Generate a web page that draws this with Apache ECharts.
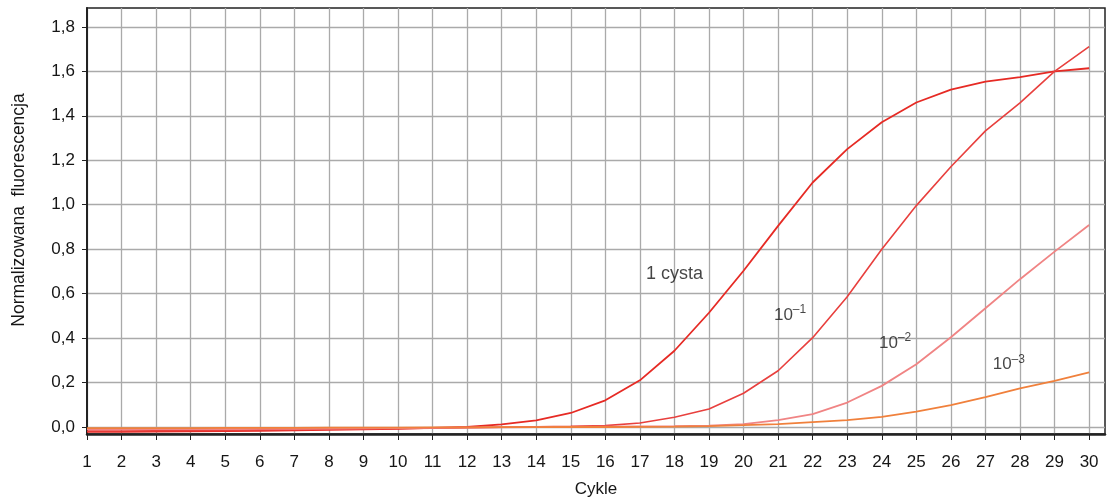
<!DOCTYPE html>
<html>
<head>
<meta charset="utf-8">
<script src="https://cdn.jsdelivr.net/npm/echarts@6/dist/echarts.min.js"></script>
<style>
  html, body { margin: 0; padding: 0; background: #fff; }
  #chart { width: 1107px; height: 499px; }
</style>
</head>
<body>
<div id="chart"></div>
<script>
// Cycle numbers (x) and normalised fluorescence per dilution
const cycles = [1,2,3,4,5,6,7,8,9,10,11,12,13,14,15,16,17,18,19,20,21,22,23,24,25,26,27,28,29,30];
const cysta1 = [-0.022,-0.022,-0.021,-0.02,-0.019,-0.017,-0.015,-0.013,-0.011,-0.008,-0.004,0.0,0.012,0.03,0.063,0.12,0.21,0.343,0.514,0.703,0.905,1.10,1.25,1.371,1.46,1.518,1.554,1.574,1.600,1.614];
const dil1 = [-0.018,-0.018,-0.017,-0.016,-0.015,-0.013,-0.012,-0.01,-0.009,-0.007,-0.005,-0.003,-0.001,0.001,0.003,0.006,0.018,0.044,0.081,0.152,0.253,0.402,0.586,0.80,0.996,1.171,1.332,1.458,1.600,1.711];
const dil2 = [-0.01,-0.01,-0.01,-0.009,-0.009,-0.008,-0.008,-0.007,-0.006,-0.005,-0.004,-0.003,-0.002,-0.001,0.0,0.002,0.003,0.004,0.006,0.013,0.031,0.058,0.11,0.185,0.282,0.404,0.534,0.665,0.789,0.909];
const dil3 = [-0.005,-0.005,-0.005,-0.005,-0.004,-0.004,-0.004,-0.003,-0.003,-0.003,-0.002,-0.002,-0.001,-0.001,0.0,0.0,0.001,0.002,0.004,0.008,0.013,0.022,0.031,0.046,0.069,0.098,0.134,0.174,0.208,0.246];

// Axis tick values
const xTicks = [1,2,3,4,5,6,7,8,9,10,11,12,13,14,15,16,17,18,19,20,21,22,23,24,25,26,27,28,29,30];
const yTicks = [0,0.2,0.4,0.6,0.8,1.0,1.2,1.4,1.6,1.8];

// Curve annotations: [x, y, text kind]
const curveLabels = [
  [17.18, 0.689, 'main'],
  [20.88, 0.504, '-1'],
  [23.92, 0.378, '-2'],
  [27.21, 0.282, '-3']
];

const zip = (ys) => cycles.map((c, i) => [c, ys[i]]);
const fmtNum = (v) => v.toFixed(1).replace('.', ',');

const chart = echarts.init(document.getElementById('chart'), null, { renderer: 'canvas' });
const font = '"Liberation Sans", Arial, sans-serif';
const ink = '#161616';

const lineSeries = (name, data, color, width) => ({
  name, type: 'line', data: zip(data), showSymbol: false, symbol: 'none',
  lineStyle: { color, width }, smooth: false, z: 3
});

chart.setOption({
  animation: false,
  backgroundColor: '#fff',
  grid: {
    left: 87, right: 2, top: 8, bottom: 65,
    outerBoundsMode: 'none', containLabel: false,
    show: true, borderColor: '#222', borderWidth: 1.5
  },
  xAxis: {
    type: 'value', min: 1, max: 30.46,
    name: 'Cykle', nameLocation: 'middle', nameGap: 47,
    nameTextStyle: { fontFamily: font, fontSize: 17, color: ink },
    axisLine: { show: true, onZero: false, lineStyle: { color: '#222', width: 2.5 } },
    axisTick: { show: true, length: 6, customValues: xTicks, lineStyle: { color: '#222', width: 1 } },
    axisLabel: { customValues: xTicks, margin: 20, fontFamily: font, fontSize: 17, color: ink },
    splitLine: { show: true, lineStyle: { color: '#aaa', width: 1.3 } }
  },
  yAxis: {
    type: 'value', min: -0.0315, max: 1.885,
    name: 'Normalizowana  fluorescencja', nameLocation: 'middle', nameGap: 59,
    nameTextStyle: { fontFamily: font, fontSize: 17.5, color: ink, padding: [0, 0, 0, 22] },
    axisLine: { show: true, onZero: false, lineStyle: { color: '#222', width: 2 } },
    axisTick: { show: true, length: 5, customValues: yTicks, lineStyle: { color: '#222', width: 1 } },
    axisLabel: { customValues: yTicks, margin: 12, fontFamily: font, fontSize: 17, color: ink, formatter: fmtNum },
    splitLine: { show: true, lineStyle: { color: '#aaa', width: 1.3 } }
  },
  series: [
    lineSeries('1 cysta', cysta1, '#e62a24', 1.8),
    lineSeries('10-1', dil1, '#e8403e', 1.6),
    lineSeries('10-2', dil2, '#f08484', 1.8),
    lineSeries('10-3', dil3, '#f0803c', 1.8),
    {
      type: 'scatter', symbolSize: 0, z: 5, silent: true,
      data: curveLabels.map(l => ({ value: [l[0], l[1]], kind: l[2] })),
      label: {
        show: true, position: 'right', distance: 0,
        fontFamily: font, color: ink,
        formatter: (p) => p.data.kind === 'main' ? '{c|1 cysta}' : '{m|10}{s|–' + p.data.kind.slice(1) + '}',
        rich: {
          c: { fontFamily: font, fontSize: 18, color: ink, lineHeight: 22 },
          m: { fontFamily: font, fontSize: 17, color: ink, lineHeight: 22 },
          s: { fontFamily: font, fontSize: 12, color: ink, lineHeight: 22, verticalAlign: 'top', padding: [0, 0, 10, 0] }
        }
      }
    }
  ]
});
</script>
</body>
</html>
